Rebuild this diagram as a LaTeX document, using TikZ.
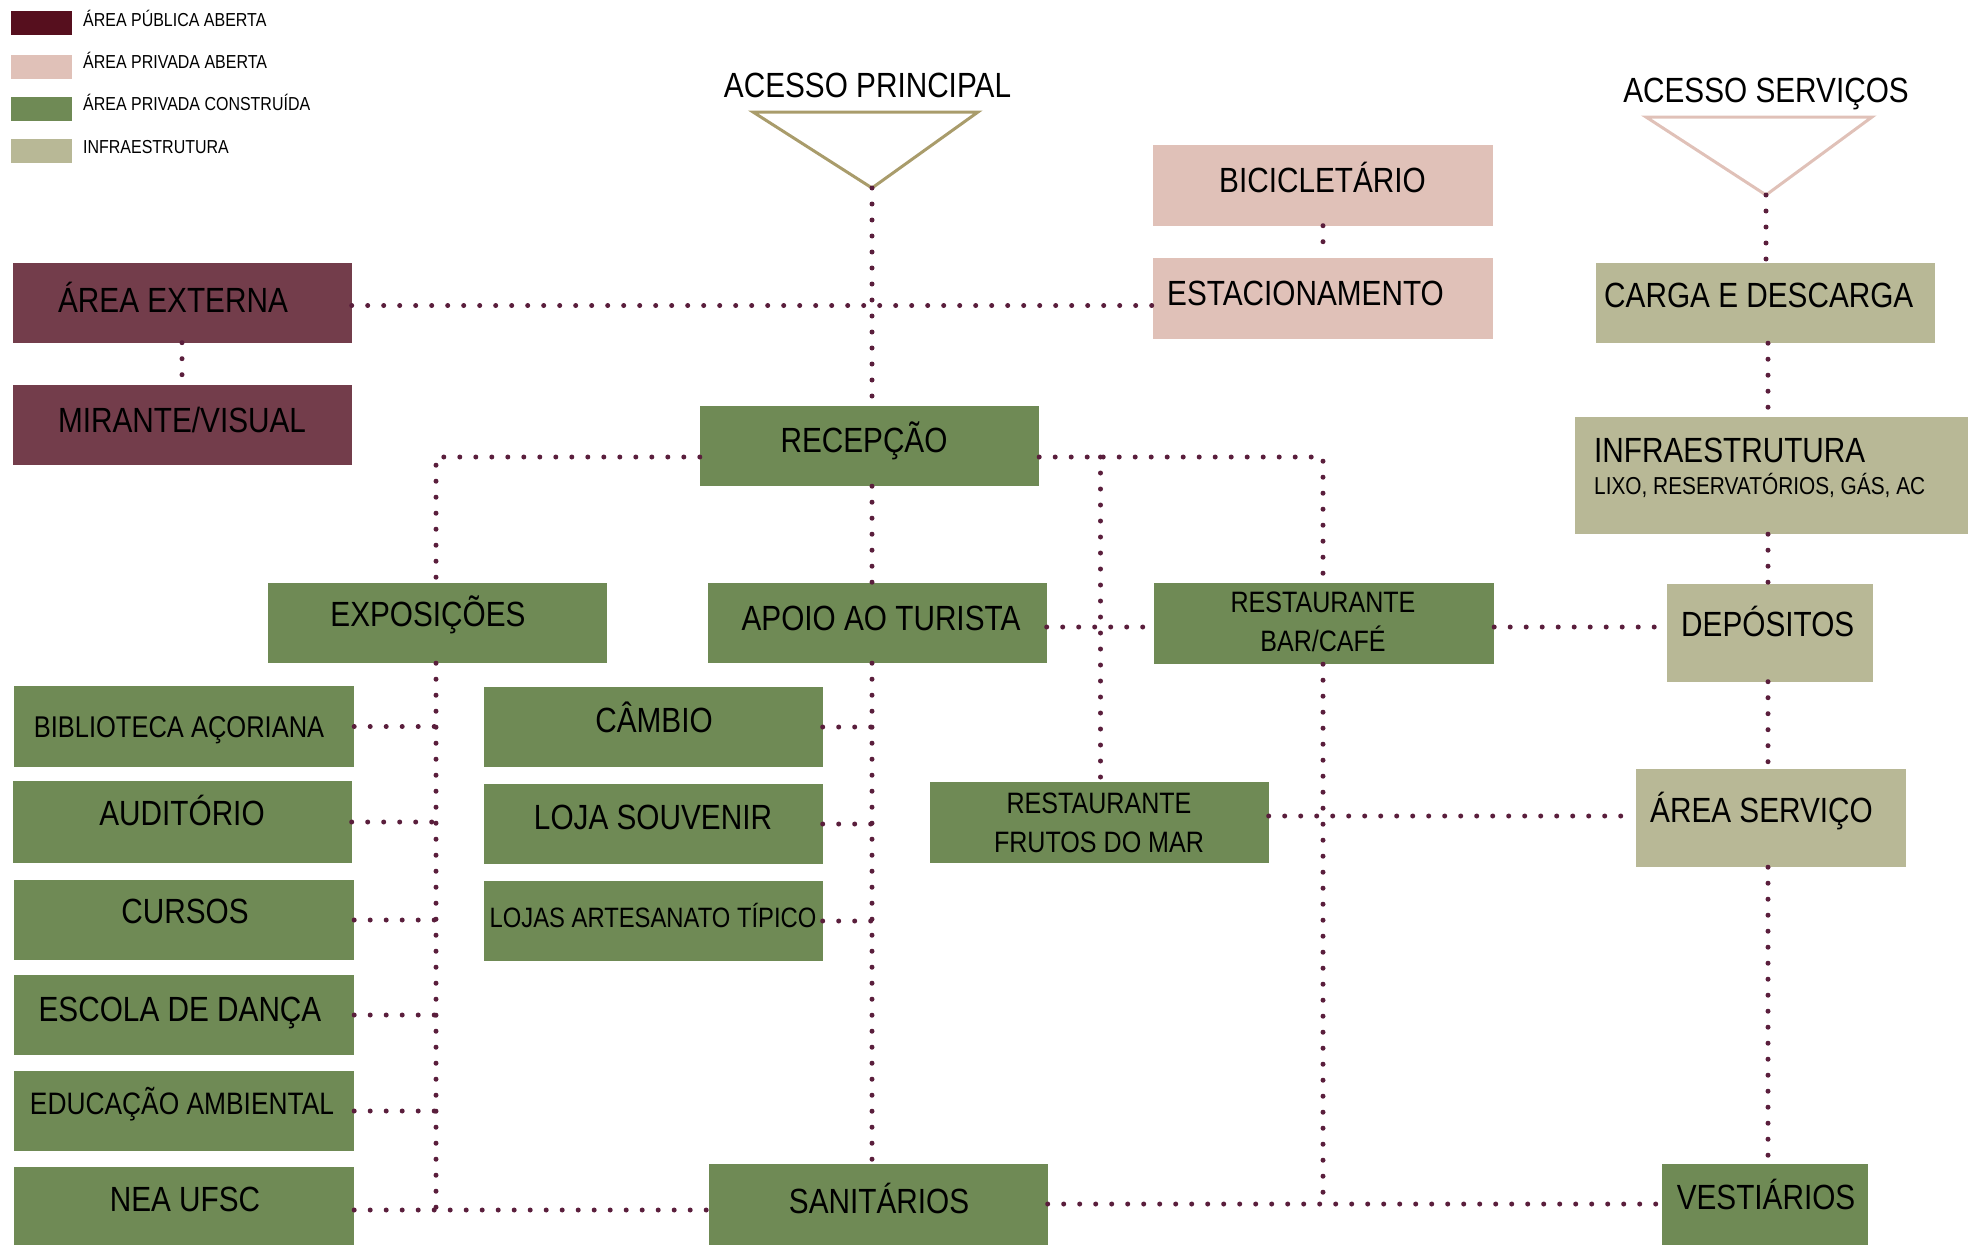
\documentclass[tikz,border=0pt]{standalone}
\usepackage{fontspec}
\setmainfont{Liberation Sans}[FakeStretch=0.85]
\definecolor{pubc}{HTML}{560F1E}
\definecolor{extc}{HTML}{733D4B}
\definecolor{pinkc}{HTML}{E0C1B8}
\definecolor{greenc}{HTML}{6F8A55}
\definecolor{infc}{HTML}{B8B896}
\definecolor{dotc}{HTML}{5A1E3C}
\definecolor{trc}{HTML}{A99C6B}
\begin{document}
\begin{tikzpicture}[x=1pt,y=-1pt,
  box/.style={inner sep=0pt},
  sz/.style 2 args={minimum width=#1pt, minimum height=#2pt},
  pub/.style={box, fill=extc},
  priv/.style={box, fill=pinkc},
  cons/.style={box, fill=greenc},
  infra/.style={box, fill=infc},
  tx/.style={inner sep=0pt, text depth=0pt},
  t35/.style={tx, font=\fontsize{35}{40}\selectfont, text height=24.1pt},
  t31/.style={tx, font=\fontsize{31}{36}\selectfont, text height=21.3pt},
  t30/.style={tx, font=\fontsize{30}{36}\selectfont, text height=20.6pt},
  t295/.style={tx, font=\fontsize{29.5}{36}\selectfont, text height=20.3pt},
  t28/.style={tx, font=\fontsize{28}{34}\selectfont, text height=19.3pt},
  t245/.style={tx, font=\fontsize{24.5}{30}\selectfont, text height=16.9pt},
  t188/.style={tx, font=\fontsize{18.8}{22}\selectfont, text height=12.9pt},
  dot/.style={draw=dotc, line width=5pt, line cap=round, dash pattern=on 0pt off 16pt},
  sw/.style={inner sep=0pt, minimum width=61pt, minimum height=24pt}
]
\useasboundingbox (0,0) rectangle (1970,1245);

% legend
\node[sw, fill=pubc] (l1) at (41.5,23) {};
\node[sw, fill=pinkc] (l2) at (41.5,67) {};
\node[sw, fill=greenc] (l3) at (41.5,109) {};
\node[sw, fill=infc] (l4) at (41.5,151) {};
\node[t188, anchor=west] (t1) at (83,19.7) {ÁREA PÚBLICA ABERTA};
\node[t188, anchor=west] (t2) at (83,62) {ÁREA PRIVADA ABERTA};
\node[t188, anchor=west] (t3) at (83,104.5) {ÁREA PRIVADA CONSTRUÍDA};
\node[t188, anchor=west] (t4) at (83,147) {INFRAESTRUTURA};

% accesses
\node[t35] (acp) at (867.5,85.4) {ACESSO PRINCIPAL};
\node[t35] (acs) at (1766,90.7) {ACESSO SERVIÇOS};
\coordinate (apx) at (872,188);
\coordinate (asx) at (1766,195);
\draw[trc, line width=3pt, line join=miter] (753,112) -- (978,112) -- (apx) -- cycle;
\draw[pinkc, line width=3pt, line join=miter] (1646,117) -- (1872,117) -- (asx) -- cycle;

% boxes
\node[pub, sz={339}{80}] (ext) at (182,302.5) {};
\node[pub, sz={339}{80}] (mir) at (182,424.5) {};
\node[priv, sz={340}{81}] (bic) at (1323,185) {};
\node[priv, sz={340}{81}] (est) at (1323,298) {};
\node[infra, sz={339}{80}] (carga) at (1765,303) {};
\node[infra, sz={393}{117}] (inf) at (1771.5,475.5) {};
\node[cons, sz={339}{80}] (rec) at (869.5,446) {};
\node[cons, sz={339}{80}] (expo) at (437,623) {};
\node[cons, sz={339}{80}] (apoio) at (877,623) {};
\node[cons, sz={340}{81}] (bar) at (1324,623.5) {};
\node[infra, sz={206}{98}] (dep) at (1770,632.5) {};
\node[cons, sz={340}{81}] (bib) at (184,726.5) {};
\node[cons, sz={339}{82}] (aud) at (182,822) {};
\node[cons, sz={340}{80}] (cur) at (184,920) {};
\node[cons, sz={340}{80}] (esc) at (184,1015) {};
\node[cons, sz={340}{80}] (edu) at (184,1111) {};
\node[cons, sz={340}{78}] (nea) at (184,1206) {};
\node[cons, sz={339}{80}] (cam) at (653,727) {};
\node[cons, sz={339}{80}] (loja) at (653,824) {};
\node[cons, sz={339}{80}] (art) at (653,921) {};
\node[cons, sz={339}{81}] (san) at (878,1204) {};
\node[cons, sz={339}{81}] (fru) at (1099,822) {};
\node[infra, sz={270}{98}] (aserv) at (1771,818) {};
\node[cons, sz={206}{81}] (vest) at (1765,1204) {};

% texts
\node[t35] (ext-t) at (173,300) {ÁREA EXTERNA};
\node[t35] (mir-t) at (182,420) {MIRANTE/VISUAL};
\node[t35] (bic-t) at (1322.5,180) {BICICLETÁRIO};
\node[t35, anchor=west] (est-t) at (1167,293) {ESTACIONAMENTO};
\node[t35, anchor=west] (carga-t) at (1604,295) {CARGA E DESCARGA};
\node[t35, anchor=west] (inf-t1) at (1594,450.5) {INFRAESTRUTURA};
\node[t245, anchor=west] (inf-t2) at (1594,486) {LIXO, RESERVATÓRIOS, GÁS, AC};
\node[t35] (rec-t) at (864,440) {RECEPÇÃO};
\node[t35] (expo-t) at (428,614) {EXPOSIÇÕES};
\node[t35] (apoio-t) at (881,618) {APOIO AO TURISTA};
\node[t295] (bar-t1) at (1323,602) {RESTAURANTE};
\node[t295] (bar-t2) at (1323,641) {BAR/CAFÉ};
\node[t35, anchor=west] (dep-t) at (1681,624.5) {DEPÓSITOS};
\node[t30] (bib-t) at (179,727.5) {BIBLIOTECA AÇORIANA};
\node[t35] (aud-t) at (182,813) {AUDITÓRIO};
\node[t35] (cur-t) at (185,911) {CURSOS};
\node[t35] (esc-t) at (180,1009) {ESCOLA DE DANÇA};
\node[t31] (edu-t) at (182,1104) {EDUCAÇÃO AMBIENTAL};
\node[t35] (nea-t) at (185,1199) {NEA UFSC};
\node[t35] (cam-t) at (654,720) {CÂMBIO};
\node[t35] (loja-t) at (653,817) {LOJA SOUVENIR};
\node[t28] (art-t) at (653,918) {LOJAS ARTESANATO TÍPICO};
\node[t35] (san-t) at (879,1201) {SANITÁRIOS};
\node[t295] (fru-t1) at (1099,803) {RESTAURANTE};
\node[t295] (fru-t2) at (1099,842) {FRUTOS DO MAR};
\node[t35, anchor=west] (aserv-t) at (1650,810) {ÁREA SERVIÇO};
\node[t35] (vest-t) at (1766,1197) {VESTIÁRIOS};

% helper coordinates
\coordinate (hA) at (0,305.5);
\coordinate (vR) at (1768,0);
\coordinate (vM) at (872,0);
\coordinate (jL) at (436,457);
\coordinate (jB) at (436,1210);
\coordinate (jR) at (1323,457);
\coordinate (jF) at (1100.5,457);
\coordinate (hB) at (0,627);
\coordinate (hS) at (0,1204);
\coordinate (hF) at (0,816);

% connectors
\draw[dot] (apx) -- (apx |- rec.north);
\draw[dot] (ext.east |- hA) -- (est.west |- hA);
\draw[dot] (ext.south) -- (mir.north);
\draw[dot] (bic.south) -- (est.north);
\draw[dot] (asx) -- (asx |- carga.north);
\draw[dot] (vR |- carga.south) -- (vR |- inf.north);
\draw[dot] (vR |- inf.south) -- (vR |- dep.north);
\draw[dot] (vR |- dep.south) -- (vR |- aserv.north);
\draw[dot] (vR |- aserv.south) -- (vR |- vest.north);
\draw[dot] (rec.west |- jL) -- (jL) -- (jL |- expo.north);
\draw[dot] (jL |- expo.south) -- (jB);
\draw[dot] (nea.east |- jB) -- (san.west |- jB);
\draw[dot] (bib.east) -- (bib.east -| jL);
\draw[dot] (aud.east) -- (aud.east -| jL);
\draw[dot] (cur.east) -- (cur.east -| jL);
\draw[dot] (esc.east) -- (esc.east -| jL);
\draw[dot] (edu.east) -- (edu.east -| jL);
\draw[dot] (vM |- rec.south) -- (vM |- apoio.north);
\draw[dot] (vM |- apoio.south) -- (vM |- san.north);
\draw[dot] (cam.east) -- (cam.east -| vM);
\draw[dot] (loja.east) -- (loja.east -| vM);
\draw[dot] (art.east) -- (art.east -| vM);
\draw[dot] (rec.east |- jR) -- (jR) -- (jR |- bar.north);
\draw[dot] (jF) -- (jF |- fru.north);
\draw[dot] (apoio.east |- hB) -- (bar.west |- hB);
\draw[dot] (bar.east |- hB) -- (dep.west |- hB);
\draw[dot] (jR |- bar.south) -- (jR |- hS);
\draw[dot] (san.east |- hS) -- (vest.west |- hS);
\draw[dot] (fru.east |- hF) -- (aserv.west |- hF);
\end{tikzpicture}
\end{document}
